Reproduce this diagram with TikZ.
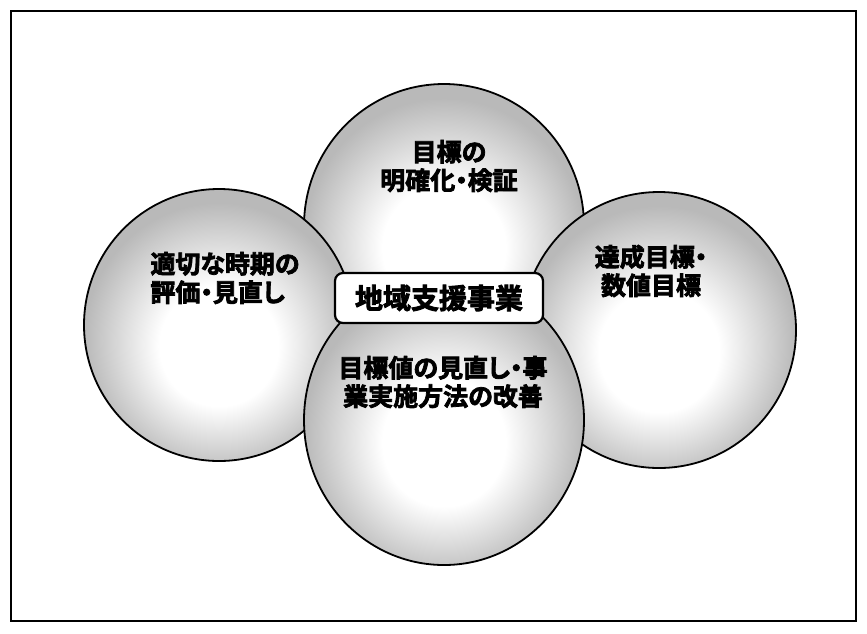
\documentclass[tikz,border=0pt]{standalone}
\usepackage{fontspec}
\usetikzlibrary{shapes.geometric}
\newfontfamily\jpfont[RawFeature=+palt, FakeBold=3]{Noto Sans CJK JP Bold}
\pgfdeclareradialshading{stipple}{\pgfpoint{0bp}{-5bp}}{color(0bp)=(white); color(11bp)=(white); color(25bp)=(gray!55); color(50bp)=(gray!55)}
\tikzset{
  petal/.style={ellipse, draw, line width=1.8pt, inner sep=0pt, minimum width=280pt,
    minimum height=284pt, shading=stipple},
  petaltext/.style={font=\jpfont\fontsize{25}{28.5}\selectfont, align=center, inner sep=0pt},
  hub/.style={draw, fill=white, line width=2.2pt, rounded corners=8pt, minimum width=208pt,
    minimum height=50pt, font=\jpfont\fontsize{28}{30}\selectfont}
}
\begin{document}
\begin{tikzpicture}[x=1pt,y=-1pt]
  \useasboundingbox (0,0) rectangle (867,633);
  \draw[line width=2.4pt] (11,11) rectangle (856,621);
  % four circles, back to front
  \draw
    (444,226) node[petal] (top){}
    (219,325) node[petal, minimum width=270pt, minimum height=272pt] (left){}
    (659,330) node[petal, minimum width=274pt, minimum height=276pt] (right){}
    (444,420) node[petal, minimum height=290pt] (bottom){};
  \node[petaltext] (toptext) at (449,166) {目標の\\明確化・検証};
  \node[petaltext, align=left] (lefttext) at (225,278) {適切な時期の\\評価・見直し};
  \node[petaltext] (righttext) at (651,271) {達成目標・\\数値目標};
  \node[petaltext] (bottomtext) at (443,382) {目標値の見直し・事\\業実施方法の改善};
  \node[hub] (hub) at (439,298) {地域支援事業};
\end{tikzpicture}
\end{document}
